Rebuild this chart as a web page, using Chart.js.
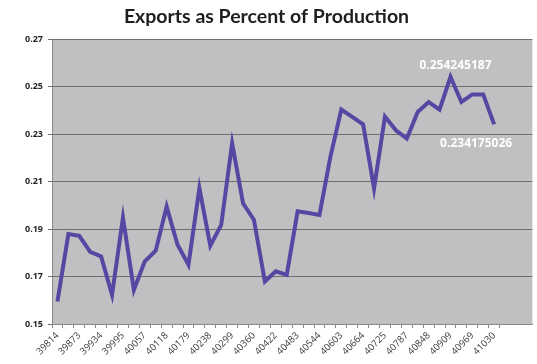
<!DOCTYPE html>
<html lang="en">
<head>
    <meta charset="UTF-8">
    <title>Exports as Percent of Production</title>
    <script src="https://cdn.jsdelivr.net/npm/chart.js"></script>
    <style>
        html, body { margin: 0; padding: 0; background: #ffffff; }
        #wrap { width: 537px; height: 364px; }
    </style>
</head>
<body>
    <div id="wrap"><canvas id="exportsChart"></canvas></div>

    <script>
        // month start dates as Excel serial numbers (Jan 2009 - May 2012)
        const months = [
            39814, 39845, 39873, 39904, 39934, 39965, 39995, 40026, 40057, 40087,
            40118, 40148, 40179, 40210, 40238, 40269, 40299, 40330, 40360, 40391,
            40422, 40452, 40483, 40513, 40544, 40575, 40603, 40634, 40664, 40695,
            40725, 40756, 40787, 40817, 40848, 40878, 40909, 40940, 40969, 41000,
            41030
        ];
        // exports divided by production, one value per month
        const exportShare = [
            0.1595, 0.1879, 0.1872, 0.1804, 0.1785, 0.1623, 0.1949, 0.1644, 0.1764, 0.1809,
            0.1995, 0.1834, 0.1750, 0.2073, 0.1830, 0.1918, 0.2262, 0.2009, 0.1939, 0.1679,
            0.1722, 0.1707, 0.1975, 0.1968, 0.1960, 0.2205, 0.2404, 0.2373, 0.2342, 0.2072,
            0.2375, 0.2317, 0.2282, 0.2394, 0.2436, 0.2404, 0.254245187, 0.2436, 0.2468, 0.2468,
            0.234175026
        ];
        const yTicks = [0.15, 0.17, 0.19, 0.21, 0.23, 0.25, 0.27];
        // months whose value is printed next to the line
        const labelledMonths = [40909, 41030];

        // the axis runs three empty slots past the last month
        const axisLabels = months.map(String).concat(['', '', '']);

        const plotBackground = {
            id: 'plotBackground',
            beforeDraw(chart) {
                const a = chart.chartArea;
                const c = chart.ctx;
                c.save();
                c.fillStyle = '#c0c0c2';
                c.fillRect(a.left, a.top, a.right - a.left, a.bottom - a.top);
                c.restore();
            }
        };

        const valueLabels = {
            id: 'valueLabels',
            afterDatasetsDraw(chart) {
                const meta = chart.getDatasetMeta(0);
                const c = chart.ctx;
                const shifts = [[5, -11], [-18, 19]];
                c.save();
                c.font = 'bold 12px "Open Sans", sans-serif';
                c.fillStyle = '#ffffff';
                c.textAlign = 'center';
                c.textBaseline = 'middle';
                labelledMonths.forEach((m, k) => {
                    const i = months.indexOf(m);
                    const pt = meta.data[i];
                    c.fillText(String(exportShare[i]), pt.x + shifts[k][0], pt.y + shifts[k][1]);
                });
                c.restore();
            }
        };

        const ctx = document.getElementById('exportsChart').getContext('2d');
        const exportsChart = new Chart(ctx, {
            type: 'line',
            data: {
                labels: axisLabels,
                datasets: [{
                    label: 'Exports / Production',
                    data: exportShare,
                    borderColor: '#5747a3',
                    borderWidth: 4,
                    pointRadius: 0,
                    tension: 0,
                    borderJoinStyle: 'miter'
                }]
            },
            options: {
                responsive: true,
                maintainAspectRatio: false,
                animation: false,
                layout: { padding: { left: 0, right: 4, top: 0, bottom: 0 } },
                plugins: {
                    legend: { display: false },
                    tooltip: { enabled: false },
                    title: {
                        display: true,
                        text: 'Exports as Percent of Production',
                        color: '#1e1e1e',
                        font: { family: 'Lato', size: 19.5, weight: 'bold' },
                        padding: { top: 5, bottom: 11 }
                    }
                },
                scales: {
                    x: {
                        offset: true,
                        grid: {
                            offset: true,
                            drawOnChartArea: false,
                            drawTicks: true,
                            tickLength: 4,
                            color: (c) => c.index <= months.length ? '#8a8a8a' : 'rgba(0,0,0,0)'
                        },
                        border: { display: true, color: '#8a8a8a', width: 1 },
                        ticks: {
                            autoSkip: false,
                            maxRotation: 45,
                            minRotation: 45,
                            padding: 2,
                            color: '#3a3a3a',
                            font: { family: 'Open Sans', size: 9.5 },
                            callback: function (value, index) {
                                return index % 2 === 0 && index < months.length ? this.getLabelForValue(value) : '';
                            }
                        },
                        afterFit(scale) { scale.height = 40; }
                    },
                    y: {
                        min: 0.15,
                        max: 0.27,
                        afterBuildTicks(scale) { scale.ticks = yTicks.map(v => ({ value: v })); },
                        grid: { color: '#6f6f6f', lineWidth: 1, tickLength: 4 },
                        border: { display: true, color: '#8a8a8a', width: 1 },
                        ticks: {
                            padding: 5,
                            color: '#262626',
                            font: { family: 'Open Sans', size: 9, weight: 'bold' },
                            callback: v => v.toFixed(2)
                        },
                        afterFit(scale) { scale.width = 52; }
                    }
                }
            },
            plugins: [plotBackground, valueLabels]
        });
    </script>
</body>
</html>
